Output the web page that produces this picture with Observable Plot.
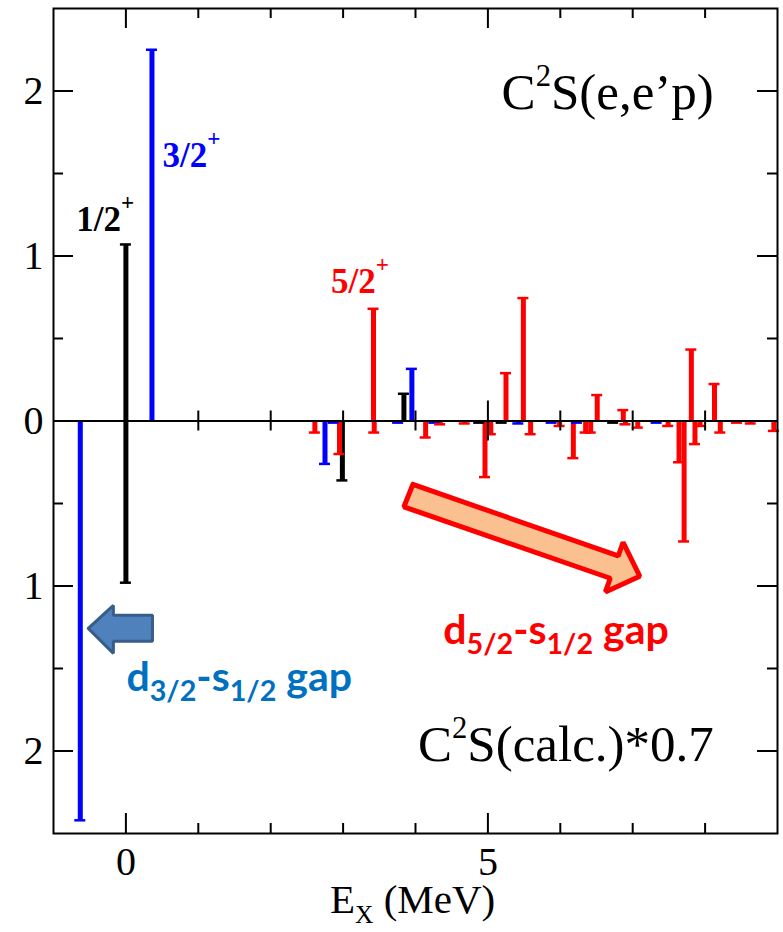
<!DOCTYPE html>
<html><head><meta charset="utf-8">
<script src="https://cdn.jsdelivr.net/npm/d3@7"></script>
<script src="https://cdn.jsdelivr.net/npm/@observablehq/plot@0.6"></script>
<style>body{margin:0;background:#fff} svg{display:block}</style>
</head><body><div id="chart"></div>
<script>
// ---- data: experimental C2S(e,e'p) (drawn upward) ----
const expEnergy   = [0.00, 0.36, 3.42, 3.84, 3.95, 5.25, 5.49, 6.51, 6.87, 7.81, 8.13];
const expStrength = [1.07, 2.25, 0.68, 0.165, 0.316, 0.29, 0.745, 0.157, 0.066, 0.433, 0.224];
const expJ        = ["1/2","3/2","5/2","1/2","3/2","5/2","5/2","5/2","5/2","5/2","5/2"];

// ---- data: calculated C2S*0.7 (drawn downward) ----
const calcEnergy   = [-0.63, 0.00, 2.61, 2.75, 2.87, 2.95, 2.99, 3.43, 3.76, 4.14, 4.26, 4.34, 4.68, 4.88, 4.96, 5.04, 5.19, 5.42, 5.59, 5.88, 5.99, 6.18, 6.23, 6.35, 6.42, 6.73, 6.90, 7.07, 7.33, 7.49, 7.64, 7.71, 7.86, 7.93, 8.21, 8.44, 8.63, 8.95];
const calcStrength = [2.42, 0.98, 0.07, 0.26, 0.01, 0.20, 0.36, 0.07, 0.01, 0.10, 0.01, 0.02, 0.015, 0.01, 0.34, 0.08, 0.01, 0.015, 0.08, 0.01, 0.03, 0.225, 0.01, 0.07, 0.07, 0.01, 0.02, 0.04, 0.01, 0.03, 0.25, 0.73, 0.14, 0.03, 0.07, 0.01, 0.015, 0.06];
const calcJ        = ["3/2","1/2","5/2","3/2","3/2","5/2","1/2","5/2","3/2","5/2","3/2","5/2","5/2","1/2","5/2","5/2","1/2","3/2","5/2","3/2","5/2","5/2","3/2","5/2","5/2","1/2","5/2","5/2","3/2","5/2","5/2","5/2","5/2","5/2","5/2","5/2","5/2","5/2"];

const jOrder  = ["1/2","3/2","5/2"];
const jColors = ["#000000","#0000ff","#ff0000"];

// ---- axes ----
const xDomain = [-1, 9];
const yDomain = [-2.5, 2.5];
const xTickLabels = [0, 5];
const xMajor = [0, 5];
const xMinor = [1, 2, 3, 4, 6, 7, 8];
const yMajor = [-2, -1, 0, 1, 2];
const yMinor = [-1.5, -0.5, 0.5, 1.5];
const xTitle = "E_{X} (MeV)";

// ---- annotations ----
const annText   = ["1/2^{+}", "3/2^{+}", "5/2^{+}", "C^{2}S(e,e’p)", "C^{2}S(calc.)*0.7", "d_{3/2}-s_{1/2} gap", "d_{5/2}-s_{1/2} gap"];
const annX      = [-0.686, 0.506, 2.832, 8.12, 8.12, 0.007, 4.383];
const annY      = [1.154, 1.541, 0.773, 1.891, -2.06, -1.637, -1.353];
const annColor  = ["#000000", "#0000ff", "#ff0000", "#000000", "#000000", "#0070c0", "#ff0000"];

const blueArrowX = [-0.52, -0.173, -0.173, 0.367, 0.367, -0.173, -0.173, -0.52];
const blueArrowY = [-1.257, -1.118, -1.178, -1.178, -1.335, -1.335, -1.408, -1.257];
const redArrowX  = [3.964, 6.80, 6.867, 7.098, 6.623, 6.690, 3.840, 3.964];
const redArrowY  = [-0.384, -0.818, -0.735, -0.941, -1.036, -0.953, -0.520, -0.384];

// ---- build ----
const W = 783, H = 932, mL = 53, mR = 6, mT = 8, mB = 99;
const kx = (W - mL - mR) / (xDomain[1] - xDomain[0]);
const ky = (H - mT - mB) / (yDomain[1] - yDomain[0]);
const capHalf = 5.5 / kx;
const color = j => jColors[jOrder.indexOf(j)];

const bars = [
  ...expEnergy.map((e, i) => ({e, v: expStrength[i], j: expJ[i]})),
  ...calcEnergy.map((e, i) => ({e, v: -calcStrength[i], j: calcJ[i]}))
].sort((a, b) => jOrder.indexOf(a.j) - jOrder.indexOf(b.j));

const ann = annText.map((t, i) => ({t, x: annX[i], y: annY[i], c: annColor[i]}));
const serifF = "Liberation Serif, DejaVu Serif, serif";
const sansF = "Lato, Open Sans, sans-serif";

const blueArrow = blueArrowX.map((x, i) => ({x, y: blueArrowY[i]}));
const redArrow = redArrowX.map((x, i) => ({x, y: redArrowY[i]}));

const tickLen = (arr, L) => arr.map(d => ({d, L}));
const allX = [...tickLen(xMajor, 20), ...tickLen(xMinor, 10)];
const allY = [...tickLen(yMajor, 20), ...tickLen(yMinor, 10)];

const plot = Plot.plot({
  width: W, height: H,
  marginLeft: mL, marginRight: mR, marginTop: mT, marginBottom: mB,
  style: {fontFamily: serifF, fontSize: "40px", color: "black", background: "white"},
  x: {domain: xDomain},
  y: {domain: yDomain},
  marks: [
    // bars
    Plot.ruleX(bars, {x: "e", y1: 0, y2: "v", stroke: d => color(d.j), strokeWidth: 5}),
    Plot.ruleY(bars, {y: "v", x1: d => d.e - capHalf, x2: d => d.e + capHalf, stroke: d => color(d.j), strokeWidth: 2.5}),
    // zero line and its crosses
    Plot.ruleY([0], {stroke: "black", strokeWidth: 2}),
    Plot.ruleX(allX, {x: "d", y1: d => -d.L / ky, y2: d => d.L / ky, stroke: "black", strokeWidth: 2}),
    // frame ticks
    Plot.ruleX(allX, {x: "d", y1: yDomain[0], y2: d => yDomain[0] + d.L / ky, stroke: "black", strokeWidth: 2}),
    Plot.ruleX(allX, {x: "d", y1: yDomain[1], y2: d => yDomain[1] - d.L / ky, stroke: "black", strokeWidth: 2}),
    Plot.ruleY(allY, {y: "d", x1: xDomain[0], x2: d => xDomain[0] + d.L / kx, stroke: "black", strokeWidth: 2}),
    Plot.ruleY(allY, {y: "d", x1: xDomain[1], x2: d => xDomain[1] - d.L / kx, stroke: "black", strokeWidth: 2}),
    Plot.frame({stroke: "black", strokeWidth: 2}),
    // tick labels
    Plot.axisX({ticks: xTickLabels, tickSize: 0, tickPadding: 13, tickFormat: d => String(d), label: null, fontSize: 40}),
    Plot.axisY({ticks: yMajor, tickSize: 0, tickPadding: 10, tickFormat: d => String(Math.abs(d)), label: null, fontSize: 40}),
    // arrows
    Plot.line(blueArrow, {x: "x", y: "y", fill: "#4f81bd", stroke: "#385d8a", strokeWidth: 3, strokeLinejoin: "miter"}),
    Plot.line(redArrow, {x: "x", y: "y", fill: "#fac090", stroke: "#ff0000", strokeWidth: 5, strokeLinejoin: "miter"}),
    // annotations
    Plot.text(ann.slice(0, 3), {x: "x", y: "y", text: "t", fill: "c", textAnchor: "start", lineAnchor: "bottom", fontSize: 35, fontWeight: "bold", fontFamily: "Liberation Serif"}),
    Plot.text(ann.slice(3, 5), {x: "x", y: "y", text: "t", fill: "c", textAnchor: "end", lineAnchor: "bottom", fontSize: 51, fontFamily: serifF}),
    Plot.text(ann.slice(5, 7), {x: "x", y: "y", text: "t", fill: "c", textAnchor: "start", lineAnchor: "bottom", fontSize: 41, fontWeight: "bold", fontFamily: sansF}),
    Plot.text([xTitle], {x: (xDomain[0] + xDomain[1]) / 2 - 0.04, y: yDomain[0] - 79 / ky, text: d => d, textAnchor: "middle", lineAnchor: "bottom", fontSize: 41, fontFamily: serifF})
  ]
});
document.getElementById("chart").appendChild(plot);

// rich text (super/subscripts) as tspans
const labelStyle = {fs: 35, supScale: 0.66, supShift: 0.6, family: "Liberation Serif", weight: "bold"};
const richOpts = {
  "1/2^{+}": labelStyle,
  "3/2^{+}": labelStyle,
  "5/2^{+}": labelStyle,
  "C^{2}S(e,e’p)": {fs: 51, supScale: 0.6, supShift: 0.45},
  "C^{2}S(calc.)*0.7": {fs: 51, supScale: 0.6, supShift: 0.45},
  "d_{3/2}-s_{1/2} gap": {fs: 41, subScale: 0.7, subShift: 0.25},
  "d_{5/2}-s_{1/2} gap": {fs: 41, subScale: 0.7, subShift: 0.25},
  "E_{X} (MeV)": {fs: 41, subScale: 0.62, subShift: 0.26}
};
d3.select(plot).selectAll("text").each(function () {
  const raw = this.textContent;
  const o = richOpts[raw];
  if (!o) return;
  const parts = raw.split(/(\^\{[^}]*\}|_\{[^}]*\})/).filter(s => s.length);
  const el = d3.select(this);
  if (o.family) el.attr("font-family", o.family).style("font-family", o.family);
  if (o.weight) el.attr("font-weight", o.weight).style("font-weight", o.weight);
  el.text("");
  let prev = 0;
  for (const p of parts) {
    let t = p, size = o.fs, off = 0;
    if (p.startsWith("^{")) { t = p.slice(2, -1); size = o.fs * o.supScale; off = -o.fs * o.supShift; }
    else if (p.startsWith("_{")) { t = p.slice(2, -1); size = o.fs * o.subScale; off = o.fs * o.subShift; }
    el.append("tspan").attr("font-size", size).attr("dy", off - prev).text(t);
    prev = off;
  }
});
</script>
</body></html>
